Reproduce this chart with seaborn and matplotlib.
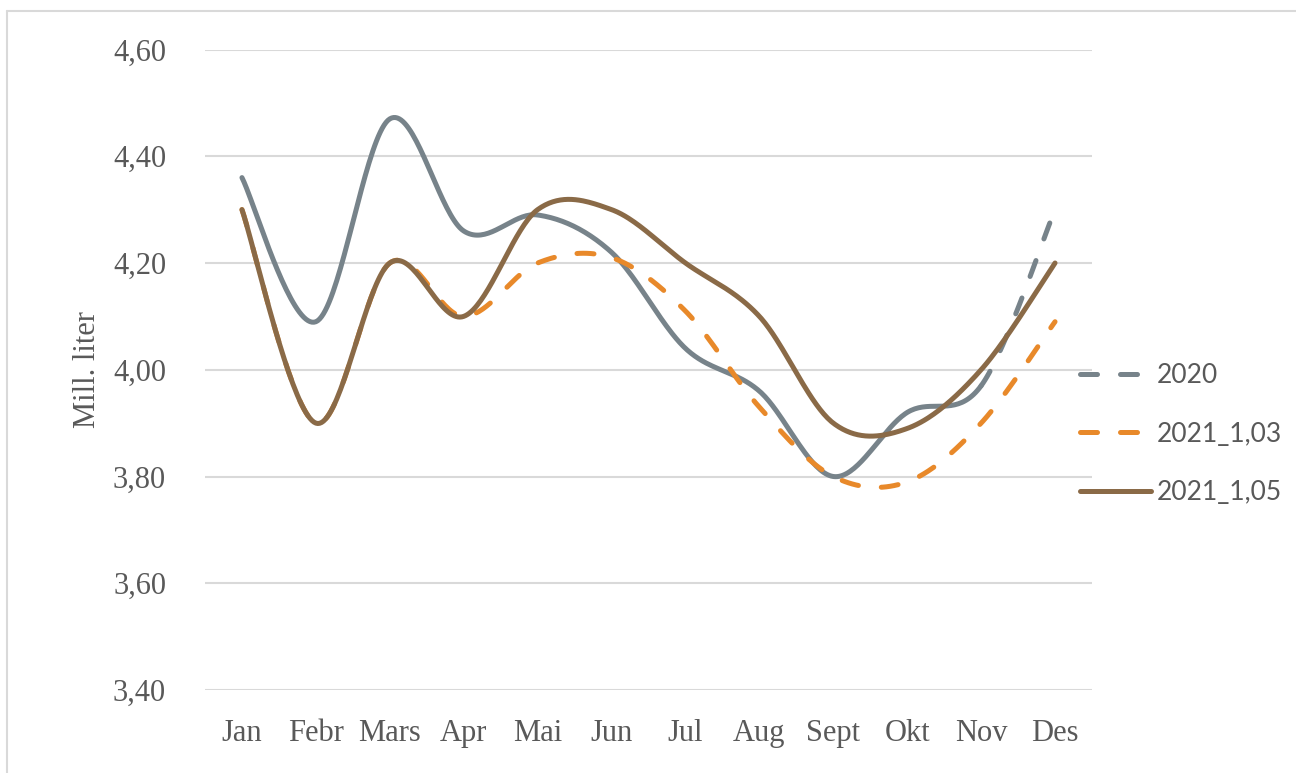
import numpy as np
import pandas as pd
import matplotlib
matplotlib.use("Agg")
import matplotlib.pyplot as plt
from matplotlib.lines import Line2D
import seaborn as sns

months = ["Jan", "Febr", "Mars", "Apr", "Mai", "Jun", "Jul", "Aug", "Sept", "Okt", "Nov", "Des"]
v2020 = [4.36, 4.09, 4.47, 4.26, 4.29, 4.22, 4.04, 3.96, 3.80, 3.92, 3.97, 4.30]
v2021_103 = [4.30, 3.90, 4.20, 4.10, 4.20, 4.21, 4.11, 3.93, 3.80, 3.79, 3.90, 4.09]
v2021_105 = [4.30, 3.90, 4.20, 4.10, 4.30, 4.30, 4.20, 4.10, 3.90, 3.89, 4.00, 4.20]
yticks = [3.40, 3.60, 3.80, 4.00, 4.20, 4.40, 4.60]

c_gray = "#77838a"
c_orange = "#e8892a"
c_brown = "#8a6a47"
c_text = "#595959"


def smooth(y, n=40):
    # Excel-like smoothed line (Catmull-Rom style bezier between points)
    x = np.arange(len(y), dtype=float)
    y = np.asarray(y, dtype=float)
    xs, ys = [], []
    for i in range(len(y) - 1):
        i0, i3 = max(i - 1, 0), min(i + 2, len(y) - 1)
        p0 = np.array([x[i], y[i]])
        p3 = np.array([x[i + 1], y[i + 1]])
        p1 = p0 + (np.array([x[i + 1], y[i + 1]]) - np.array([x[i0], y[i0]])) / 6
        p2 = p3 - (np.array([x[i3], y[i3]]) - np.array([x[i], y[i]])) / 6
        t = np.linspace(0, 1, n)[:, None]
        pts = (1 - t) ** 3 * p0 + 3 * (1 - t) ** 2 * t * p1 + 3 * (1 - t) * t ** 2 * p2 + t ** 3 * p3
        xs.extend(pts[:, 0]); ys.extend(pts[:, 1])
    return pd.DataFrame({"x": xs, "y": ys})


sns.set_style("white")
plt.rcParams["font.family"] = ["Liberation Serif", "DejaVu Serif"]

fig = plt.figure(figsize=(12.96, 7.73), dpi=100)
ax = fig.add_axes([205 / 1296, 1 - 690 / 773, 887 / 1296, 640.5 / 773])

lw = 3.6
d2020 = smooth(v2020)
split = 10  # 2020 dashed from Nov to Des
solid = d2020[d2020.x <= split]
dashed = d2020[d2020.x >= split]
sns.lineplot(data=solid, x="x", y="y", ax=ax, color=c_gray, lw=lw, sort=False,
             legend=False, zorder=2, solid_capstyle="round")
sns.lineplot(data=dashed, x="x", y="y", ax=ax, color=c_gray, lw=lw, sort=False,
             legend=False, zorder=2, dashes=(3.4, 4.6), dash_capstyle="round")
sns.lineplot(data=smooth(v2021_103), x="x", y="y", ax=ax, color=c_orange, lw=lw,
             sort=False, legend=False, zorder=3, dashes=(3.4, 4.6), dash_capstyle="round")
sns.lineplot(data=smooth(v2021_105), x="x", y="y", ax=ax, color=c_brown, lw=lw,
             sort=False, legend=False, zorder=4, solid_capstyle="round")

ax.set_xlim(-0.5, len(months) - 0.5)
ax.set_ylim(3.40, 4.60)
ax.set_xticks(range(len(months)))
ax.set_xticklabels(months)
ax.set_yticks(yticks)
ax.set_yticklabels([f"{v:.2f}".replace(".", ",") for v in yticks])
ax.yaxis.grid(True, color="#d9d9d9", lw=1.5, zorder=0)
ax.xaxis.grid(False)
for s in ax.spines.values():
    s.set_visible(False)
ax.tick_params(axis="y", length=0, pad=28, labelsize=22, labelcolor=c_text)
ax.tick_params(axis="x", length=0, pad=21, labelsize=22, labelcolor=c_text)
ax.set_xlabel("")
ax.set_ylabel("Mill. liter", fontsize=22, color=c_text)
ax.yaxis.set_label_coords(-0.116, 0.5)

handles = [
    Line2D([], [], color=c_gray, lw=lw, dashes=(3.4, 4.6), dash_capstyle="round"),
    Line2D([], [], color=c_orange, lw=lw, dashes=(3.4, 4.6), dash_capstyle="round"),
    Line2D([], [], color=c_brown, lw=lw, solid_capstyle="round"),
]
leg = fig.legend(handles, ["2020", "2021_1,03", "2021_1,05"], loc="center left",
                 bbox_to_anchor=(1056 / 1296, 1 - 434 / 773), frameon=False,
                 handlelength=2.7, handletextpad=0.2, labelspacing=1.27,
                 prop={"family": "Lato", "size": 19}, labelcolor=c_text)

# outer chart frame (top and left edges visible)
fig.add_artist(Line2D([7 / 1296, 7 / 1296], [0, 1 - 11 / 773], transform=fig.transFigure,
                      color="#d9d9d9", lw=1.5))
fig.add_artist(Line2D([7 / 1296, 1], [1 - 11 / 773, 1 - 11 / 773], transform=fig.transFigure,
                      color="#d9d9d9", lw=1.5))

fig.savefig("out.png", dpi=100)
